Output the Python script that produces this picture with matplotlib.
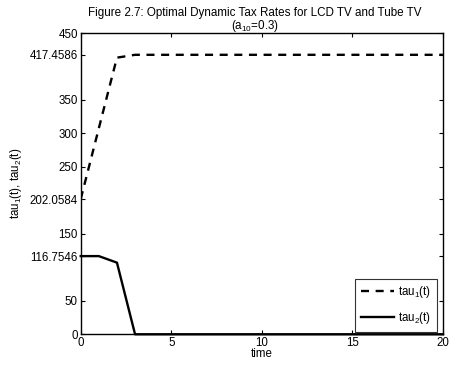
import numpy as np
import matplotlib.pyplot as plt

plt.rcParams['font.family'] = ['Liberation Sans', 'DejaVu Sans']
plt.rcParams['mathtext.fontset'] = 'custom'
plt.rcParams['mathtext.rm'] = 'Liberation Sans'
plt.rcParams['mathtext.it'] = 'Liberation Sans'

# tax rates per period
t = np.arange(0, 21)
tau1 = [202.0584, 307.8, 413.2] + [417.4586] * 18
tau2 = [116.7546, 116.7546, 107.0] + [0.0] * 18

yticks = [0, 50, 116.7546, 150, 202.0584, 250, 300, 350, 417.4586, 450]
yticklabels = ['0', '50', '116.7546', '150', '202.0584', '250', '300', '350', '417.4586', '450']

fig = plt.figure(figsize=(4.51, 3.71), dpi=100)
ax = fig.add_axes([0.179, 0.099, 0.803, 0.812])

ax.plot(t, tau1, 'k--', linewidth=1.7, dashes=(3.4, 2.8), label=r'tau$_1$(t)')
ax.plot(t, tau2, 'k-', linewidth=1.7, label=r'tau$_2$(t)', clip_on=False)

ax.set_xlim(0, 20)
ax.set_ylim(0, 450)
ax.set_xticks([0, 5, 10, 15, 20])
ax.set_yticks(yticks)
ax.set_yticklabels(yticklabels)
ax.tick_params(direction='in', top=True, right=True, labelsize=8.3, length=3, width=0.8, pad=2)
for s in ax.spines.values():
    s.set_linewidth(1.0)

ax.set_xlabel('time', fontsize=8.3, labelpad=-1)
ax.set_ylabel(r'tau$_1$(t), tau$_2$(t)', fontsize=8.3, labelpad=4)
fig.text(255 / 451, 0.982, 'Figure 2.7: Optimal Dynamic Tax Rates for LCD TV and Tube TV\n(a$_{10}$=0.3)',
         fontsize=8.4, linespacing=0.95, ha='center', va='top', multialignment='center')

leg = ax.legend(loc='lower right', bbox_to_anchor=(0.983, 0.008), fontsize=8.3, frameon=True,
                fancybox=False, edgecolor='black', borderaxespad=0, handlelength=2.9,
                handletextpad=0.3, labelspacing=0.85, borderpad=0.5)
leg.get_frame().set_linewidth(0.8)

fig.savefig('out.png', dpi=100)
